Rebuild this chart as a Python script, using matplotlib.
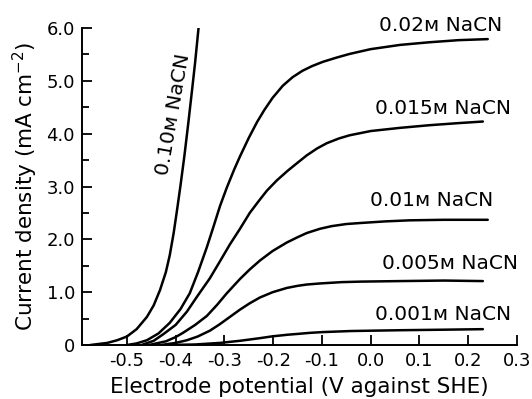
import matplotlib
matplotlib.use("Agg")
import matplotlib.pyplot as plt
from matplotlib.ticker import MultipleLocator

plt.rcParams["font.family"] = ["DejaVu Sans"]
plt.rcParams["axes.unicode_minus"] = False

# potential (V against SHE) and current density (mA cm-2)
x_010 = [-0.575, -0.54, -0.52, -0.50, -0.48, -0.459, -0.445, -0.432, -0.42, -0.412,
         -0.404, -0.397, -0.39, -0.382, -0.374, -0.366, -0.36, -0.353]
y_010 = [0.0, 0.04, 0.09, 0.16, 0.30, 0.53, 0.75, 1.04, 1.38, 1.70,
         2.12, 2.56, 3.02, 3.58, 4.20, 4.85, 5.35, 6.0]

x_002 = [-0.50, -0.48, -0.459, -0.435, -0.412, -0.39, -0.371, -0.354, -0.336, -0.322,
         -0.309, -0.295, -0.28, -0.268, -0.25, -0.233, -0.218, -0.201, -0.18, -0.16,
         -0.14, -0.12, -0.098, -0.07, -0.043, 0.0, 0.06, 0.12, 0.18, 0.24]
y_002 = [0.0, 0.03, 0.09, 0.22, 0.42, 0.68, 0.98, 1.38, 1.85, 2.25,
         2.63, 2.98, 3.32, 3.57, 3.92, 4.22, 4.45, 4.68, 4.91, 5.07,
         5.19, 5.28, 5.36, 5.44, 5.51, 5.60, 5.68, 5.73, 5.77, 5.79]

x_0015 = [-0.47, -0.445, -0.426, -0.40, -0.377, -0.355, -0.33, -0.31, -0.289, -0.268,
          -0.248, -0.23, -0.213, -0.192, -0.17, -0.15, -0.131, -0.11, -0.09, -0.065,
          -0.043, 0.0, 0.06, 0.12, 0.18, 0.23]
y_0015 = [0.0, 0.08, 0.20, 0.38, 0.63, 0.93, 1.26, 1.57, 1.90, 2.20,
          2.50, 2.72, 2.92, 3.12, 3.30, 3.45, 3.59, 3.72, 3.82, 3.91,
          3.97, 4.05, 4.11, 4.16, 4.20, 4.23]

x_001 = [-0.455, -0.42, -0.40, -0.385, -0.36, -0.336, -0.315, -0.295, -0.28, -0.268,
         -0.248, -0.227, -0.201, -0.172, -0.15, -0.131, -0.104, -0.08, -0.05, -0.02,
         0.03, 0.08, 0.15, 0.24]
y_001 = [0.0, 0.07, 0.15, 0.23, 0.38, 0.55, 0.76, 0.98, 1.13, 1.25,
         1.43, 1.60, 1.78, 1.94, 2.04, 2.12, 2.20, 2.25, 2.29, 2.31,
         2.34, 2.36, 2.37, 2.37]

x_0005 = [-0.43, -0.40, -0.377, -0.355, -0.33, -0.31, -0.289, -0.268, -0.248, -0.227,
          -0.201, -0.172, -0.15, -0.131, -0.104, -0.06, -0.02, 0.06, 0.15, 0.23]
y_0005 = [0.0, 0.04, 0.09, 0.16, 0.27, 0.39, 0.53, 0.67, 0.79, 0.90,
          1.00, 1.08, 1.12, 1.145, 1.165, 1.19, 1.20, 1.21, 1.22, 1.21]

x_0001 = [-0.42, -0.36, -0.309, -0.268, -0.227, -0.201, -0.17, -0.15, -0.125, -0.098,
          -0.04, 0.06, 0.15, 0.23]
y_0001 = [0.0, 0.01, 0.04, 0.08, 0.13, 0.165, 0.195, 0.21, 0.23, 0.245,
          0.265, 0.28, 0.29, 0.30]

curves = [(x_010, y_010), (x_002, y_002), (x_0015, y_0015),
          (x_001, y_001), (x_0005, y_0005), (x_0001, y_0001)]

labels = ["0.10\u1d0d NaCN", "0.02\u1d0d NaCN", "0.015\u1d0d NaCN",
          "0.01\u1d0d NaCN", "0.005\u1d0d NaCN", "0.001\u1d0d NaCN"]
label_pos = [(-0.404, 4.36), (0.144, 6.04), (0.148, 4.47),
             (0.125, 2.74), (0.162, 1.55), (0.148, 0.57)]
label_rot = [80, 0, 0, 0, 0, 0]

xticks = [-0.5, -0.4, -0.3, -0.2, -0.1, 0.0, 0.1, 0.2, 0.3]
yticks = [0, 1, 2, 3, 4, 5, 6]
yticklabels = ["0", "1.0", "2.0", "3.0", "4.0", "5.0", "6.0"]

fig = plt.figure(figsize=(5.32, 3.99), dpi=100)
ax = fig.add_axes([0.1541, 0.1353, 0.8177, 0.7945])

for xs, ys in curves:
    ax.plot(xs, ys, color="black", lw=1.8, solid_capstyle="round", solid_joinstyle="round")

for txt, (tx, ty), rot in zip(labels, label_pos, label_rot):
    ax.text(tx, ty, txt, ha="center", va="center", rotation=rot, fontsize=14.5)

ax.set_xlim(-0.592, 0.3)
ax.set_ylim(0, 6)
ax.spines["top"].set_visible(False)
ax.spines["right"].set_visible(False)
ax.spines["left"].set_linewidth(1.4)
ax.spines["bottom"].set_linewidth(1.4)

ax.set_xticks(xticks)
ax.set_xticklabels(["%.1f" % v for v in xticks])
ax.set_yticks(yticks)
ax.set_yticklabels(yticklabels)
ax.yaxis.set_minor_locator(MultipleLocator(0.5))
ax.tick_params(which="major", direction="in", length=7, width=1.3, labelsize=13, pad=5)
ax.tick_params(which="minor", direction="in", length=5, width=1.3)

ax.set_xlabel("Electrode potential (V against SHE)", fontsize=15.5, labelpad=5)
ax.set_ylabel("Current density (mA cm$^{-2}$)", fontsize=15.5, labelpad=5)

fig.savefig("out.png", dpi=100)
